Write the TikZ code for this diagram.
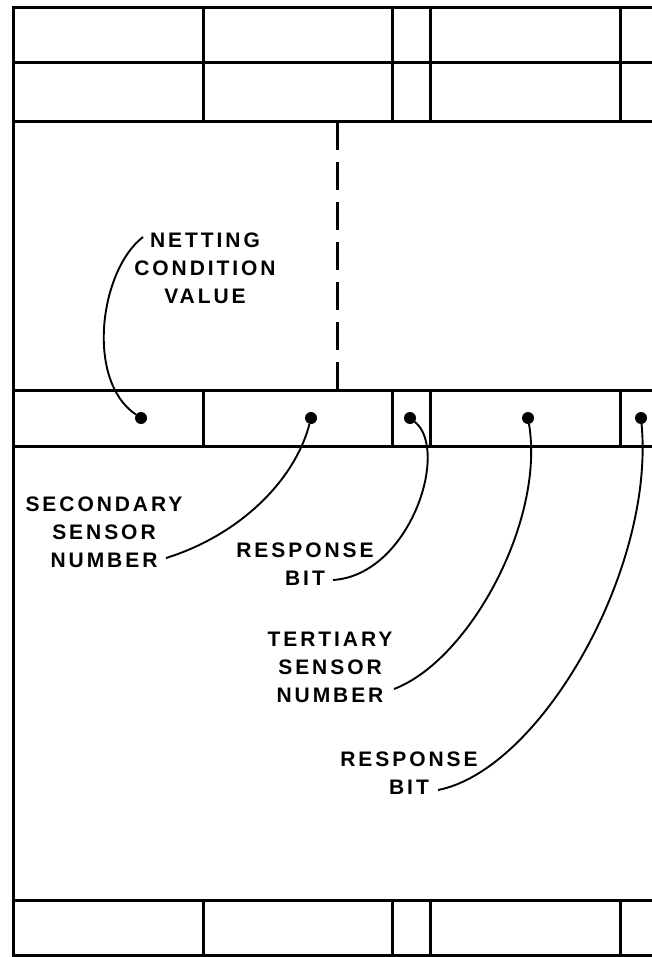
\documentclass[tikz,border=0pt]{standalone}
\usepackage{fontspec}
\newfontfamily\lblfont{Liberation Sans Bold}[LetterSpace=14]
\usetikzlibrary{calc}
\begin{document}
\begin{tikzpicture}[x=1pt,y=-1pt,
  grid/.style={line width=3pt},
  divider/.style={line width=3pt,dash pattern=on 28pt off 12pt},
  leader/.style={line width=1.9pt},
  dot/.style={circle,fill=black,inner sep=0pt,minimum size=12pt},
  lbl/.style={font=\lblfont\fontsize{21}{28}\selectfont,align=center,inner sep=0pt}]
\useasboundingbox (0,0) rectangle (652,957);

% record frame: outer border and horizontal rules
\draw[grid] (652,8) -- (13,8) -- (13,955) -- (652,955);
\foreach \yy in {63,122,390,446,900}
  \draw[grid] (13,\yy) -- (652,\yy);

% field separators inside the narrow rows
\foreach \ya/\yb in {8/63,63/122,390/446,900/955}
  \foreach \xx in {203,392,430,620}
    \draw[grid] (\xx,\ya) -- (\xx,\yb);

% dashed split of the wide field
\draw[divider] (337,122) -- (337,390);

% field markers
\node[dot] (d1) at (141,418) {};
\node[dot] (d2) at (311,418) {};
\node[dot] (d3) at (410,418) {};
\node[dot] (d4) at (528,418) {};
\node[dot] (d5) at (641,418) {};

% labels
\node[lbl] (netting) at (205,268) {NETTING\\CONDITION\\VALUE};
\node[lbl] (secondary) at (104,532) {SECONDARY\\SENSOR\\NUMBER};
\node[lbl] (resp1) at (305,564) {RESPONSE\\BIT};
\node[lbl] (tertiary) at (330,667) {TERTIARY\\SENSOR\\NUMBER};
\node[lbl] (resp2) at (409,773) {RESPONSE\\BIT};

% leader start points beside the text
\coordinate (l1) at (143,237);
\coordinate (l2) at (166,558);
\coordinate (l3) at (333,580);
\coordinate (l4) at (394,689);
\coordinate (l5) at (438,790);

% leaders
\draw[leader] (l1) .. controls (100,270) and (85,380) .. (d1);
\draw[leader] (l2) .. controls (240,535) and (295,480) .. (d2);
\draw[leader] (l3) .. controls (410,575) and (450,450) .. (d3);
\draw[leader] (l4) .. controls (470,660) and (545,520) .. (d4);
\draw[leader] (l5) .. controls (540,770) and (655,570) .. (d5);
\end{tikzpicture}
\end{document}
